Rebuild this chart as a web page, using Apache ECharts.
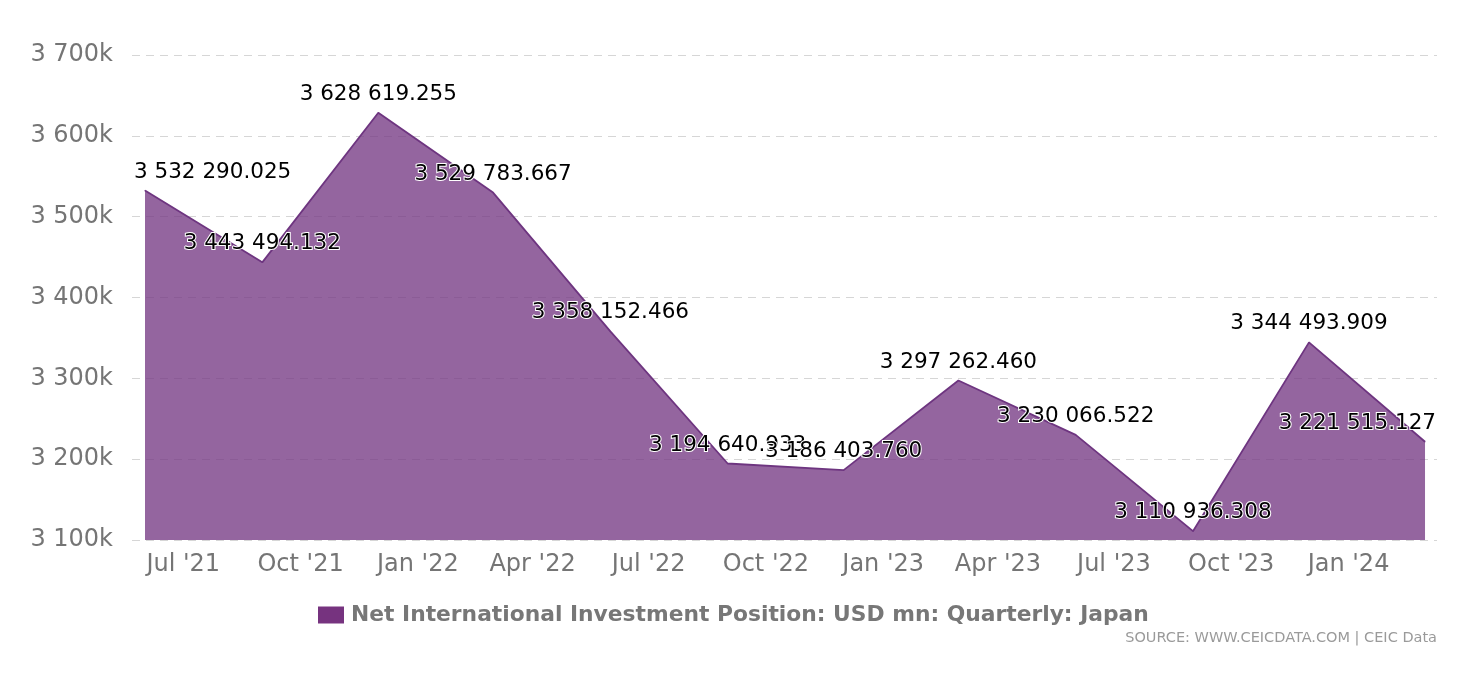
<!DOCTYPE html>
<html>
<head>
<meta charset="utf-8">
<script src="https://cdn.jsdelivr.net/npm/echarts@6/dist/echarts.min.js"></script>
<style>
html,body{margin:0;padding:0;background:#fff;}
#chart{width:1478px;height:688px;}
</style>
</head>
<body>
<div id="chart"></div>
<script>
// Quarter dates (plotted on first day of quarter-end month)
const dates = ["2021-06-01","2021-09-01","2021-12-01","2022-03-01","2022-06-01","2022-09-01",
               "2022-12-01","2023-03-01","2023-06-01","2023-09-01","2023-12-01","2024-03-01"];
const values = [3532290.025, 3443494.132, 3628619.255, 3529783.667, 3358152.466, 3194640.933,
                3186403.760, 3297262.460, 3230066.522, 3110936.308, 3344493.909, 3221515.127];
const tickDates = ["2021-07-01","2021-10-01","2022-01-01","2022-04-01","2022-07-01","2022-10-01",
                   "2023-01-01","2023-04-01","2023-07-01","2023-10-01","2024-01-01"];
const tickLabels = ["Jul '21","Oct '21","Jan '22","Apr '22","Jul '22","Oct '22",
                    "Jan '23","Apr '23","Jul '23","Oct '23","Jan '24"];
const seriesName = "Net International Investment Position: USD mn: Quarterly: Japan";
const sourceText = "SOURCE: WWW.CEICDATA.COM | CEIC Data";

const ts = s => Date.parse(s + "T00:00:00Z");
const DAY = 86400000;
const tickTs = tickDates.map(ts);
const labelMap = {};
tickTs.forEach((t, i) => labelMap[t] = tickLabels[i]);

function fmtNum(v) {
  const parts = v.toFixed(3).split(".");
  return parts[0].replace(/\B(?=(\d{3})+(?!\d))/g, " ") + "." + parts[1];
}
function fmtK(v) {
  return String(Math.round(v / 1000)).replace(/\B(?=(\d{3})+(?!\d))/g, " ") + "k";
}

const FONT = "DejaVu Sans";
const GRID_LEFT = 132, GRID_RIGHT_EDGE = 1437;
const data = dates.map((d, i) => [ts(d), values[i]]);

const chart = echarts.init(document.getElementById("chart"));
chart.setOption({
  animation: false,
  backgroundColor: "#ffffff",
  textStyle: { fontFamily: FONT },
  grid: { left: GRID_LEFT, right: 1478 - GRID_RIGHT_EDGE, top: 55, bottom: 148, containLabel: false },
  xAxis: {
    type: "value",
    min: ts(dates[0]) - 10.2 * DAY,
    max: ts(dates[dates.length - 1]) + 9.4 * DAY,
    axisLine: { show: false },
    axisTick: { show: false },
    splitLine: { show: false },
    axisLabel: {
      customValues: tickTs,
      formatter: v => labelMap[v] || "",
      color: "#757575",
      fontSize: 24,
      fontFamily: FONT,
      margin: 13
    }
  },
  yAxis: {
    type: "value",
    min: 3100000,
    max: 3700000,
    interval: 100000,
    axisLine: { show: false },
    axisTick: { show: false },
    splitLine: { show: true, lineStyle: { color: "#d6d6d6", type: [8, 6], width: 1 } },
    axisLabel: {
      formatter: fmtK,
      color: "#757575",
      fontSize: 24,
      fontFamily: FONT,
      margin: 19
    }
  },
  legend: {
    left: 318,
    top: 604,
    padding: 0,
    icon: "rect",
    itemWidth: 26,
    itemHeight: 17,
    itemGap: 10,
    textStyle: { color: "#777777", fontSize: 21.8, fontWeight: "bold", fontFamily: FONT, padding: [0, 0, 0, 2] },
    data: [{ name: seriesName, itemStyle: { color: "#76337f", opacity: 1 } }]
  },
  graphic: [{
    type: "text",
    right: 1478 - GRID_RIGHT_EDGE,
    top: 631,
    style: { text: sourceText, fill: "#9a9a9a", fontSize: 14.5, fontFamily: FONT }
  }],
  series: [{
    name: seriesName,
    type: "line",
    data: data,
    symbol: "circle",
    symbolSize: 1,
    showSymbol: true,
    showAllSymbol: true,
    itemStyle: { color: "#6e3580" },
    color: "#763a84",
    lineStyle: { color: "#6e3580", width: 1.8 },
    areaStyle: { color: "#763a84", opacity: 0.78, origin: "start" },
    label: {
      show: true,
      position: "top",
      distance: 7,
      formatter: p => fmtNum(p.value[1]),
      color: "#000000",
      fontSize: 21.5,
      fontFamily: FONT,
      textBorderColor: "#ffffff",
      textBorderWidth: 2
    },
    labelLayout: function (p) {
      const r = p.labelRect;
      if (r.x < GRID_LEFT) return { dx: GRID_LEFT + 1 - r.x, hideOverlap: false };
      if (r.x + r.width > GRID_RIGHT_EDGE) return { dx: GRID_RIGHT_EDGE - (r.x + r.width), hideOverlap: false };
      return { hideOverlap: false };
    }
  }]
});
</script>
</body>
</html>
